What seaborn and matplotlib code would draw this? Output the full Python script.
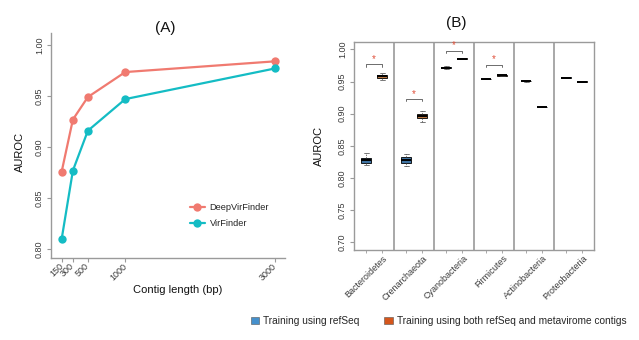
import numpy as np
import pandas as pd
import matplotlib
matplotlib.use("Agg")
import matplotlib.pyplot as plt
import matplotlib.transforms as mtransforms
from matplotlib.patches import Patch
import seaborn as sns

sns.set_theme(style="white")
plt.rcParams["font.family"] = ["Liberation Sans", "DejaVu Sans"]

# ---- Panel A: AUROC by contig length ----
lengths = [150, 300, 500, 1000, 3000]
deepvirfinder_auroc = [0.876, 0.927, 0.949, 0.9735, 0.984]
virfinder_auroc = [0.810, 0.877, 0.916, 0.947, 0.977]
methods = ["DeepVirFinder", "VirFinder"]
method_colors = ["#F07A70", "#14BCC4"]
auroc_ticks_a = [0.80, 0.85, 0.90, 0.95, 1.00]

# ---- Panel B: AUROC per phylum (min, q1, median, q3, max of each box) ----
phyla = ["Bacteroidetes", "Crenarchaeota", "Cyanobacteria",
         "Firmicutes", "Actinobacteria", "Proteobacteria"]
refseq_auroc = [
    [0.820, 0.824, 0.828, 0.8315, 0.839],
    [0.818, 0.824, 0.828, 0.833, 0.838],
    [0.9700, 0.9710, 0.9718, 0.9726, 0.9735],
    [0.9532, 0.9537, 0.9541, 0.9545, 0.9550],
    [0.9498, 0.9501, 0.9504, 0.9507, 0.9510],
    [0.9555, 0.9558, 0.9561, 0.9564, 0.9567],
]
combined_auroc = [
    [0.9525, 0.9556, 0.958, 0.9603, 0.9634],
    [0.8864, 0.8926, 0.8957, 0.8998, 0.9045],
    [0.9848, 0.9852, 0.9856, 0.9860, 0.9864],
    [0.9590, 0.9594, 0.9597, 0.9600, 0.9604],
    [0.9100, 0.9104, 0.9107, 0.9110, 0.9113],
    [0.9493, 0.9497, 0.9500, 0.9503, 0.9506],
]
training_sets = ["Training using refSeq",
                 "Training using both refSeq and metavirome contigs"]
training_colors = ["#4590CC", "#D5561C"]
box_colors = ["#2F74B2", "#D0742A"]
significant_phyla = ["Bacteroidetes", "Crenarchaeota", "Cyanobacteria", "Firmicutes"]
bracket_levels = [0.9774, 0.923, 0.998, 0.976]
auroc_ticks_b = [0.70, 0.75, 0.80, 0.85, 0.90, 0.95, 1.00]

axis_grey = "#9A9A9A"
text_grey = "#3A3A3A"

fig = plt.figure(figsize=(6.39, 3.40), dpi=100)

# ================= Panel A =================
axA = fig.add_axes([0.0798, 0.241, 0.366, 0.662])
dfa = pd.DataFrame({
    "length": lengths * 2,
    "auroc": deepvirfinder_auroc + virfinder_auroc,
    "method": [methods[0]] * len(lengths) + [methods[1]] * len(lengths),
})
sns.lineplot(data=dfa, x="length", y="auroc", hue="method", hue_order=methods,
             palette=dict(zip(methods, method_colors)), marker="o",
             markersize=6, markeredgewidth=0, linewidth=1.6, ax=axA)
axA.set_xlim(7, 3134)
axA.set_ylim(0.7912, 1.0118)
axA.set_xticks(lengths)
axA.set_xticklabels([str(v) for v in lengths], rotation=45, ha="right",
                    va="center", rotation_mode="anchor", fontsize=6.5, color=text_grey)
shift_a = mtransforms.ScaledTranslation(6 / 100, 0, fig.dpi_scale_trans)
for lbl in axA.get_xticklabels():
    lbl.set_transform(lbl.get_transform() + shift_a)
axA.set_yticks(auroc_ticks_a)
axA.set_yticklabels([f"{v:.2f}" for v in auroc_ticks_a], rotation=90,
                    va="center", fontsize=6.5, color=text_grey)
axA.tick_params(axis="both", length=3, width=0.8, color=axis_grey, pad=2, left=True, bottom=True)
for side in ["top", "right"]:
    axA.spines[side].set_visible(False)
for side in ["left", "bottom"]:
    axA.spines[side].set_color(axis_grey)
    axA.spines[side].set_linewidth(1.0)
axA.set_xlabel("Contig length (bp)", fontsize=8, color="#111111")
axA.set_ylabel("AUROC", fontsize=8, color="#111111")
axA.xaxis.set_label_coords(0.543, -0.12)
axA.yaxis.set_label_coords(-0.11, 0.471)
axA.legend(frameon=False, fontsize=6.7, loc="upper left",
           bbox_to_anchor=(0.594, 0.245), borderpad=0, borderaxespad=0,
           handlelength=1.6, handletextpad=0.5, labelspacing=0.75)
fig.text(0.258, 0.918, "(A)", ha="center", va="center", fontsize=11, color="#111111")

# ================= Panel B =================
axB = fig.add_axes([0.554, 0.2647, 0.3756, 0.6127])
rows = []
for phylum, ref_vals, comb_vals in zip(phyla, refseq_auroc, combined_auroc):
    for v in ref_vals:
        rows.append((phylum, training_sets[0], v))
    for v in comb_vals:
        rows.append((phylum, training_sets[1], v))
dfb = pd.DataFrame(rows, columns=["phylum", "training", "auroc"])

sns.boxplot(data=dfb, x="phylum", y="auroc", hue="training", order=phyla,
            hue_order=training_sets, palette=dict(zip(training_sets, box_colors)),
            width=0.8, gap=0.375, whis=(0, 100), linewidth=0.6, linecolor="black",
            showfliers=False, legend=False,
            medianprops=dict(color="black", linewidth=1.4),
            whiskerprops=dict(linestyle=(0, (2, 1.5)), linewidth=0.5, color="#444444"),
            capprops=dict(linewidth=0.5, color="#444444"),
            ax=axB)
axB.set_xlim(-0.5, len(phyla) - 0.5)
axB.set_ylim(0.688, 1.012)
for k in range(1, len(phyla)):
    axB.axvline(k - 0.5, color=axis_grey, linewidth=1.2)
for side in axB.spines.values():
    side.set_color(axis_grey)
    side.set_linewidth(1.0)

# significance brackets
for phylum, level in zip(significant_phyla, bracket_levels):
    g = phyla.index(phylum)
    axB.plot([g - 0.2, g - 0.2, g + 0.2, g + 0.2],
             [level - 0.004, level, level, level - 0.004],
             color="#555555", linewidth=0.6)
    axB.text(g, level + 0.0005, "*", ha="center", va="bottom",
             fontsize=7, color="#E0503A")

axB.set_yticks(auroc_ticks_b)
axB.set_yticklabels([f"{v:.2f}" for v in auroc_ticks_b], rotation=90,
                    va="center", fontsize=6.5, color=text_grey)
axB.tick_params(axis="y", length=3, width=0.8, color=axis_grey, pad=2, left=True)
axB.set_xticks(range(len(phyla)))
axB.set_xticklabels(phyla, rotation=45, ha="right", va="center",
                    rotation_mode="anchor", fontsize=6.5, color=text_grey)
axB.tick_params(axis="x", length=0, pad=5)
offset = mtransforms.ScaledTranslation(12 / 100, 0, fig.dpi_scale_trans)
for lbl in axB.get_xticklabels():
    lbl.set_transform(lbl.get_transform() + offset)
axB.set_xticks([g + d for g in range(len(phyla)) for d in (-0.2, 0.2)], minor=True)
axB.tick_params(axis="x", which="minor", length=2.5, width=0.6, color=axis_grey, bottom=True)
axB.set_xlabel("")
axB.set_ylabel("AUROC", fontsize=8, color="#111111")
axB.yaxis.set_label_coords(-0.125, 0.5)
fig.text(0.7147, 0.931, "(B)", ha="center", va="center", fontsize=11, color="#111111")

handles = [Patch(facecolor=c, edgecolor="#555555", linewidth=0.4) for c in training_colors]
fig.legend(handles, training_sets, loc="center", bbox_to_anchor=(0.686, 0.056),
           ncol=2, frameon=False, fontsize=7.3, handlelength=0.8, handleheight=0.8,
           handletextpad=0.4, columnspacing=2.5, borderpad=0)

fig.savefig("out.png", dpi=100, facecolor="white")
